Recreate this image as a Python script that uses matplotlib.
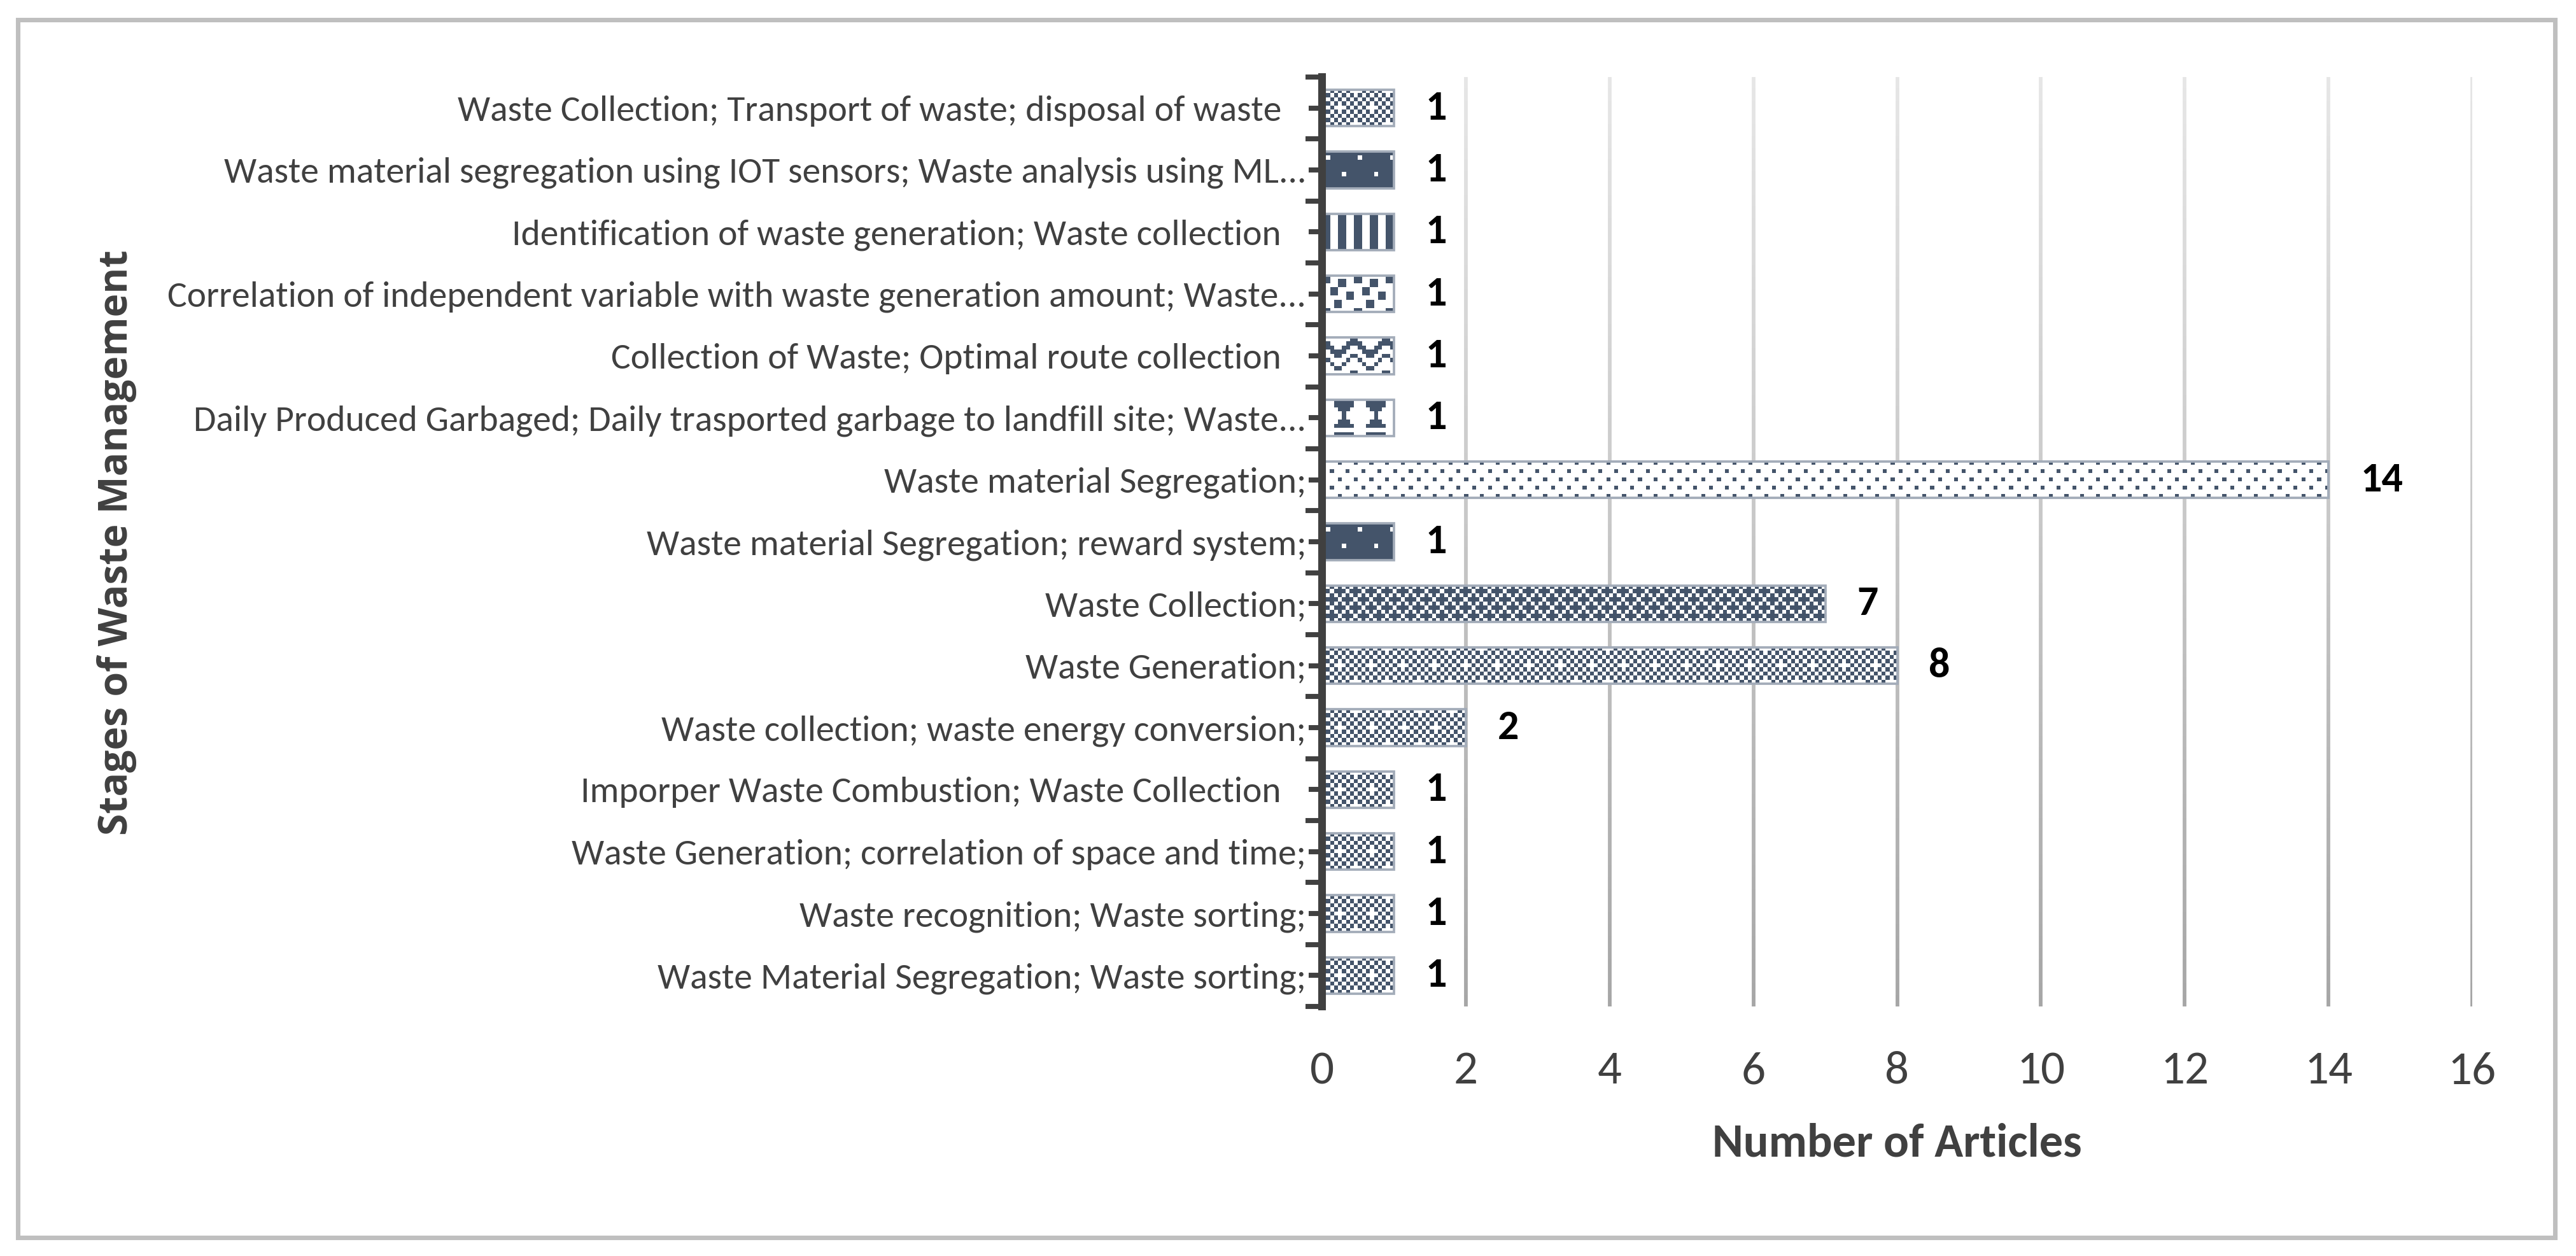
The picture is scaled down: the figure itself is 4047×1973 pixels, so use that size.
import numpy as np
import matplotlib
matplotlib.use("Agg")
import matplotlib.pyplot as plt
from matplotlib import font_manager
from matplotlib.collections import LineCollection
from matplotlib.colors import to_rgb, LinearSegmentedColormap
from matplotlib.patches import Rectangle

# Dados (de cima para baixo, como no gráfico original)
etapas = [
    "Waste Collection; Transport of waste; disposal of waste   ",
    "Waste material segregation using IOT sensors; Waste analysis using ML...",
    "Identification of waste generation; Waste collection   ",
    "Correlation of independent variable with waste generation amount; Waste...",
    "Collection of Waste; Optimal route collection   ",
    "Daily Produced Garbaged; Daily trasported garbage to landfill site; Waste...",
    "Waste material Segregation;",
    "Waste material Segregation; reward system;",
    "Waste Collection;",
    "Waste Generation;",
    "Waste collection; waste energy conversion;",
    "Imporper Waste Combustion; Waste Collection   ",
    "Waste Generation; correlation of space and time;",
    "Waste recognition; Waste sorting;",
    "Waste Material Segregation; Waste sorting;",
]
artigos = [1, 1, 1, 1, 1, 1, 14, 1, 7, 8, 2, 1, 1, 1, 1]
x_ticks = [0, 2, 4, 6, 8, 10, 12, 14, 16]

# padrão de preenchimento de cada barra (estilo Excel)
padroes = ["50", "90", "vert", "confete", "zigzag", "ampulheta", "10",
           "90", "70", "50", "50", "50", "50", "50", "50"]


# escolher fonte parecida com Calibri
def tem_fonte(nome):
    try:
        font_manager.findfont(nome, fallback_to_default=False)
        return True
    except Exception:
        return False


fonte = "Carlito" if tem_fonte("Carlito") else "Lato"
fonte_y = "Open Sans" if tem_fonte("Open Sans") else fonte
plt.rcParams["font.family"] = [fonte, "DejaVu Sans"]

cinza_texto = "#404040"
cor_padrao = "#44546A"

# padrões 8x8
i, j = np.mgrid[0:8, 0:8]
t50 = (i + j) % 2 == 0
t50[0, 0] = False
t50[4, 4] = False
t70 = ((i + j) % 2 == 0) | ((i % 4 == 1) & (j % 4 == 0)) | ((i % 4 == 3) & (j % 4 == 2))
t90 = np.ones((8, 8), bool)
t90[1, 1] = False
t90[5, 5] = False
tvert = (j % 4) < 2
t10 = ((i % 4 == 0) & (j % 4 == 0)) | ((i % 4 == 2) & (j % 4 == 2))
tzig = np.zeros((8, 8), bool)
for c in range(8):
    r = c if c < 4 else 7 - c
    tzig[r, c] = True
    tzig[r + 4, c] = True
    tzig[(r + 1) % 8, c] = True
tconf = np.zeros((8, 8), bool)
for r, c in [(0, 0), (1, 4), (3, 2), (4, 6), (6, 3)]:
    tconf[r:r + 2, c:c + 2] = True
tamp = np.array([
    [0, 1, 1, 1, 1, 1, 0, 0],
    [0, 1, 1, 1, 1, 1, 0, 0],
    [0, 0, 1, 1, 1, 0, 0, 0],
    [0, 0, 0, 1, 0, 0, 0, 0],
    [0, 0, 0, 1, 0, 0, 0, 0],
    [0, 0, 1, 1, 1, 0, 0, 0],
    [0, 1, 1, 1, 1, 1, 0, 0],
    [0, 0, 0, 0, 0, 0, 0, 0],
], bool)
tamp = np.roll(tamp, 2, axis=1)
tiles = {"50": t50, "70": t70, "90": t90, "vert": tvert, "10": t10,
         "zigzag": tzig, "confete": tconf, "ampulheta": tamp}

W, H, DPI = 4047, 1973, 300
fig = plt.figure(figsize=(W / DPI, H / DPI), dpi=DPI)
fig.patch.set_facecolor("white")

# moldura cinza
fig.patches.append(Rectangle((27.5 / W, 1 - 1943.5 / H), (4013.5 - 27.5) / W, (1943.5 - 31.5) / H,
                             transform=fig.transFigure, fill=False, edgecolor="#BFBFBF",
                             linewidth=1.7, zorder=0))

topo, base = 121, 1581
ax = fig.add_axes([2077 / W, 1 - base / H, (3884 - 2077) / W, (base - topo) / H])
pos = np.arange(len(etapas))

bars = ax.barh(pos, artigos, height=0.59, color="none", edgecolor="#A3ACB9",
               linewidth=0.9, zorder=3)
ax.set_xlim(0, 16)
ax.set_ylim(len(etapas) - 0.5, -0.5)

# preencher as barras com padrões
fg = np.array(to_rgb(cor_padrao))
bg = np.array(to_rgb("white"))
cel = 6.2
for bar, nome in zip(bars, padroes):
    x0, y0 = bar.get_x(), bar.get_y()
    x1, y1 = x0 + bar.get_width(), y0 + bar.get_height()
    p0 = ax.transData.transform((x0, y0))
    p1 = ax.transData.transform((x1, y1))
    ncol = max(1, int(round(abs(p1[0] - p0[0]) / cel)))
    nlin = max(1, int(round(abs(p1[1] - p0[1]) / cel)))
    t = tiles[nome]
    masc = np.tile(t, (nlin // 8 + 1, ncol // 8 + 1))[:nlin, :ncol]
    img = np.where(masc[..., None], fg, bg)
    im = ax.imshow(img, extent=(x0, x1, y1, y0), origin="upper", aspect="auto",
                   interpolation="nearest", zorder=2)
    im.set_clip_path(bar)

ax.set_xlim(0, 16)
ax.set_ylim(len(etapas) - 0.5, -0.5)

# linhas de grade com degradê
cmap = LinearSegmentedColormap.from_list("grade", ["#E6E6E6", "#A6A6A6"])
ys = np.linspace(-0.5, len(etapas) - 0.5, 80)
segs, cores = [], []
for xt in x_ticks[1:]:
    for k in range(len(ys) - 1):
        segs.append([(xt, ys[k]), (xt, ys[k + 1])])
        cores.append(cmap(k / (len(ys) - 2)))
ax.add_collection(LineCollection(segs, colors=cores, linewidths=1.4, zorder=1))

# rótulos de valor
ax.bar_label(bars, labels=[str(v) for v in artigos], padding=12, fontsize=15.8,
             fontweight="bold", color="black")

# eixos
for s in ["top", "right", "bottom"]:
    ax.spines[s].set_visible(False)
ax.spines["left"].set_color(cinza_texto)
ax.spines["left"].set_linewidth(2.9)
ax.spines["left"].set_zorder(5)

ax.set_yticks(pos, etapas)
ax.set_yticks(np.arange(-0.5, len(etapas), 1), minor=True)
ax.tick_params(axis="y", which="major", length=5, width=1.9, color=cinza_texto,
               pad=1, labelsize=13.8, labelcolor=cinza_texto)
ax.tick_params(axis="y", which="minor", length=6.3, width=1.9, color=cinza_texto)
ax.set_xticks(x_ticks)
ax.tick_params(axis="x", length=0, pad=16.8, labelsize=18, labelcolor=cinza_texto)

ax.set_xlabel("Number of Articles", fontsize=17.8, fontweight="bold", color=cinza_texto)
ax.xaxis.label.set_va("center")
ax.xaxis.set_label_coords(0.5, (base - 1796) / (base - topo))

ax.set_ylabel("Stages of Waste Management", fontsize=15, fontweight="bold",
              color=cinza_texto, family=[fonte_y, "DejaVu Sans"])
ax.yaxis.label.set_va("center")
ax.yaxis.set_label_coords((183 - 2077) / (3884 - 2077), 1 - (852 - topo) / (base - topo))

fig.savefig("out.png", dpi=DPI)
